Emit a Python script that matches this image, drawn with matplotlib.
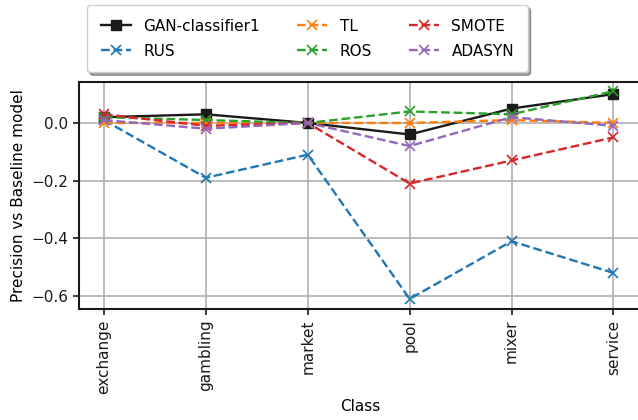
import matplotlib
matplotlib.use("Agg")
import matplotlib.pyplot as plt

classes = ["exchange", "gambling", "market", "pool", "mixer", "service"]

gan_classifier1 = [0.02, 0.03, 0.0, -0.04, 0.05, 0.10]
rus = [0.01, -0.19, -0.11, -0.61, -0.41, -0.52]
tl = [0.0, 0.0, 0.0, 0.0, 0.01, 0.0]
ros = [0.02, 0.01, 0.0, 0.04, 0.03, 0.11]
smote = [0.03, -0.01, 0.0, -0.21, -0.13, -0.05]
adasyn = [0.01, -0.02, 0.0, -0.08, 0.02, -0.01]

yticks = [0.0, -0.2, -0.4, -0.6]

plt.rcParams["font.family"] = "DejaVu Sans"
plt.rcParams["font.size"] = 11

fig = plt.figure(figsize=(6.38, 4.20), dpi=100)
ax = fig.add_axes([79 / 638, (420 - 309) / 420, (641 - 79) / 638, (309 - 82) / 420])

x = list(range(len(classes)))
ax.plot(x, gan_classifier1, color="#1a1a1a", linestyle="-", marker="s",
        markersize=7, linewidth=1.7, label="GAN-classifier1")
series = [
    ("RUS", rus, "#1f77b4"),
    ("TL", tl, "#ff7f0e"),
    ("ROS", ros, "#2ca02c"),
    ("SMOTE", smote, "#d62728"),
    ("ADASYN", adasyn, "#9467bd"),
]
for name, vals, col in series:
    ax.plot(x, vals, color=col, linestyle="--", marker="x", markersize=7,
            markeredgewidth=1.2, linewidth=1.7, label=name)

ax.set_xlim(-0.245, 5.27)
ax.set_ylim(-0.645, 0.142)
ax.set_xticks(x)
ax.set_xticklabels(classes, rotation=90)
ax.set_yticks(yticks)
ax.set_xlabel("Class")
ax.set_ylabel("Precision vs Baseline model")
ax.grid(True, color="#b0b0b0", linewidth=1.2)
ax.set_axisbelow(True)
for s in ax.spines.values():
    s.set_linewidth(1.5)
    s.set_color("#1a1a1a")
ax.tick_params(direction="out", length=4, width=1.2, colors="#1a1a1a")

leg = fig.legend(loc="upper left", bbox_to_anchor=(87 / 638, 1 - 5 / 420),
                 borderaxespad=0.0, ncol=3, shadow=True, frameon=True,
                 fancybox=True, handlelength=2.0, columnspacing=2.4,
                 borderpad=0.9, labelspacing=0.65, framealpha=1.0)
leg.get_frame().set_edgecolor("#cccccc")

fig.savefig("out.png", dpi=100)
